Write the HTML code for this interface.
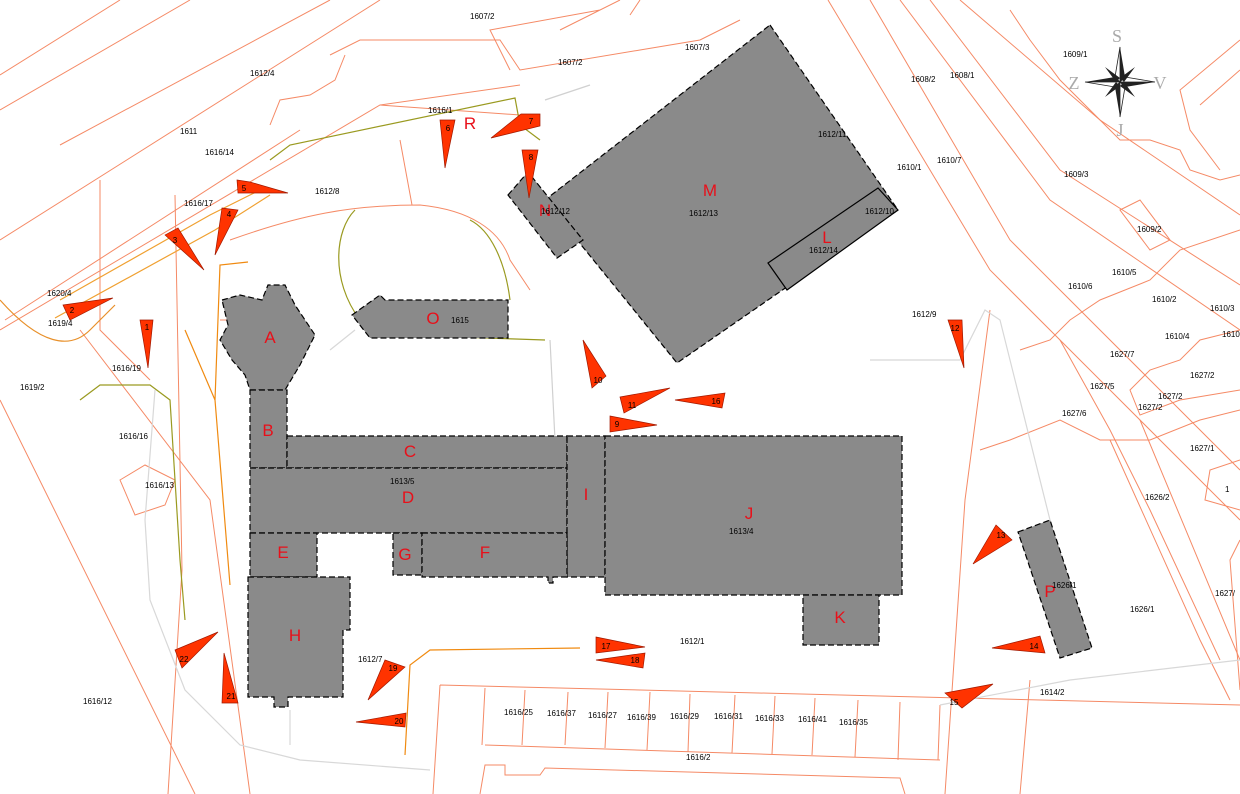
<!DOCTYPE html>
<html><head><meta charset="utf-8"><style>
html,body{margin:0;padding:0;background:#fff;width:1240px;height:794px;overflow:hidden}
svg{display:block}
.p{font-family:"Liberation Sans",sans-serif;font-size:8px;fill:#000}
.L{font-family:"Liberation Sans",sans-serif;font-size:17px;fill:#e8101a;text-anchor:middle}
.t{font-family:"Liberation Sans",sans-serif;font-size:8px;fill:#000;text-anchor:middle}
</style></head><body>
<svg width="1240" height="794" viewBox="0 0 1240 794" xmlns="http://www.w3.org/2000/svg">
<g fill="none" stroke="#f58a66" stroke-width="1">
<path d="M0,75 L120,0 M0,110 L190,0 M60,145 L330,0 M0,240 L380,0 M5,320 L300,130"/>
<path d="M0,330 L380,105 L520,85"/>
<path d="M330,55 L360,40 L500,40 L520,70 L640,50 L700,40 L740,20"/>
<path d="M510,70 L490,30 L600,10 M640,0 L630,15 M620,0 L560,30"/>
<path d="M270,125 L280,100 L310,95 L335,80 L345,55"/>
<path d="M230,240 C300,215 350,205 420,205 C470,210 500,230 510,260 L530,290"/>
<path d="M400,140 L412,205 M100,180 L100,330 L150,380 M175,195 L182,570 L168,794"/>
<path d="M0,400 L195,794 M80,330 L210,500 L250,794"/>
<path d="M120,480 L145,465 L175,480 L165,505 L135,515 Z"/>
<path d="M828,0 L990,270 L1240,520 M870,0 L1010,240 L1240,470 M900,0 L1050,200 L1240,330"/>
<path d="M930,0 L1060,170 L1240,285 M960,0 L1100,120 L1240,215"/>
<path d="M1010,10 L1030,40 L1060,80 L1090,110 L1120,140 L1150,140 L1180,150 L1190,170 L1220,180 L1240,175"/>
<path d="M1240,40 L1180,90 L1190,130 L1220,170 M1240,70 L1200,105"/>
<path d="M1120,210 L1140,200 L1170,240 L1150,250 Z"/>
<path d="M1240,230 L1180,250 L1150,280 L1100,300 L1070,320 L1050,340 L1020,350"/>
<path d="M1240,330 L1200,340 L1180,360 L1150,370 L1130,390 L1140,415 L1180,400 L1240,390"/>
<path d="M1240,410 L1200,420 L1150,440 L1100,440 L1060,420 L1010,440 L980,450"/>
<path d="M1240,460 L1210,470 L1205,500 L1240,510"/>
<path d="M1140,420 L1240,660 M1110,440 L1200,640 L1230,700 M1060,340 L1110,430 L1150,510 L1220,660"/>
<path d="M1240,540 L1230,560 L1240,690"/>
<path d="M990,310 L965,500 L945,794"/>
<path d="M440,685 L1240,705 M440,685 L433,794 M485,688 L482,745 M1030,680 L1020,794"/>
<path d="M485,745 L940,760 M525,690 L522,745 M568,692 L565,745 M608,692 L605,748 M650,692 L647,750 M690,694 L688,752 M735,695 L732,753 M775,696 L772,754 M815,698 L812,755 M858,700 L855,757 M900,702 L898,760 M940,705 L938,760"/>
<path d="M480,794 L485,765 L505,765 L505,775 L540,775 L545,768 L900,778 L905,794"/>
<path d="M380,105 L520,115 M220,320 L260,320"/>
</g>
<g fill="none" stroke-width="1.2">
<path d="M60,300 L210,215 L260,190 M55,318 L215,230 L270,195" stroke="#f0a030"/>
<path d="M0,300 C40,345 70,350 90,330 L115,305" stroke="#e8902a"/>
<path d="M80,400 L100,385 L150,385 L170,400 L175,480 L180,560 L185,620" stroke="#9a9a20"/>
<path d="M230,585 L215,400 L185,330" stroke="#f08a10"/>
<path d="M215,400 L220,265 L248,262" stroke="#f08a10"/>
<path d="M405,755 L410,665 L430,650 L580,648" stroke="#f08a10"/>
<path d="M270,160 L290,145 L515,98 L520,125 L540,140" stroke="#9a9a20"/>
<path d="M355,210 C335,230 330,280 360,320 L400,335 L545,340" stroke="#9a9a20"/>
<path d="M470,220 C490,230 505,260 510,300" stroke="#9a9a20"/>
<path d="M550,340 L555,440 M545,100 L590,85" stroke="#d0d0d0"/>
<path d="M155,390 L145,520 L150,600 L185,690 L240,745 L300,760 L430,770" stroke="#d8d8d8"/>
<path d="M290,745 L290,710 M940,705 L1070,680 L1240,660 M870,360 L960,360 L985,310 L1000,320 L1060,560" stroke="#d8d8d8"/>
<path d="M330,350 L355,330" stroke="#d8d8d8"/>
</g>
<g fill="#8a8a8a" stroke="#000" stroke-width="1.2" stroke-dasharray="6,3">
<path d="M770,25 L898,210 L677,363 L565,225 L545,200 Z"/>
<path d="M508,195 L528,172 L583,240 L557,258 Z"/>
<path d="M768,263 L878,188 L898,210 L787,290 Z" stroke-dasharray="none"/>
<path d="M222,300 L240,295 L262,300 L268,285 L285,285 L295,305 L315,335 L300,365 L285,390 L250,390 L245,375 L232,360 L220,340 L228,325 Z"/>
<rect x="250" y="390" width="37" height="78"/>
<rect x="287" y="436" width="280" height="32"/>
<rect x="250" y="468" width="317" height="65"/>
<rect x="567" y="436" width="38" height="141"/>
<rect x="605" y="436" width="297" height="159"/>
<rect x="803" y="595" width="76" height="50"/>
<rect x="250" y="533" width="67" height="44"/>
<rect x="393" y="533" width="29" height="42"/>
<path d="M422,533 L567,533 L567,577 L553,577 L553,583 L548,583 L548,577 L422,577 Z"/>
<path d="M248,577 L350,577 L350,630 L343,630 L343,697 L288,697 L288,707 L274,707 L274,697 L248,697 Z"/>
<path d="M352,315 L380,295 L385,300 L508,300 L508,338 L370,338 Z"/>
<path d="M1018,532 L1050,520 L1092,648 L1060,658 Z"/>
</g>
<g class="L">
<text x="270" y="343">A</text><text x="268" y="436">B</text><text x="410" y="457">C</text>
<text x="408" y="503">D</text><text x="283" y="558">E</text><text x="485" y="558">F</text>
<text x="405" y="560">G</text><text x="295" y="641">H</text><text x="586" y="500">I</text>
<text x="749" y="519">J</text><text x="840" y="623">K</text><text x="827" y="243">L</text>
<text x="710" y="196">M</text><text x="545" y="216">N</text><text x="433" y="324">O</text>
<text x="1050" y="597">P</text><text x="470" y="129">R</text>
</g>
<g class="p">
<text x="470" y="19">1607/2</text><text x="558" y="65">1607/2</text><text x="685" y="50">1607/3</text>
<text x="250" y="76">1612/4</text><text x="180" y="134">1611</text><text x="205" y="155">1616/14</text>
<text x="428" y="113">1616/1</text><text x="315" y="194">1612/8</text><text x="184" y="206">1616/17</text>
<text x="818" y="137">1612/11</text><text x="689" y="216">1612/13</text><text x="541" y="214">1612/12</text>
<text x="865" y="214">1612/10</text><text x="809" y="253">1612/14</text><text x="451" y="323">1615</text>
<text x="47" y="296">1620/4</text><text x="48" y="326">1619/4</text><text x="112" y="371">1616/19</text>
<text x="20" y="390">1619/2</text><text x="119" y="439">1616/16</text><text x="145" y="488">1616/13</text>
<text x="390" y="484">1613/5</text><text x="729" y="534">1613/4</text><text x="680" y="644">1612/1</text>
<text x="358" y="662">1612/7</text><text x="83" y="704">1616/12</text>
<text x="504" y="715">1616/25</text><text x="547" y="716">1616/37</text><text x="588" y="718">1616/27</text>
<text x="627" y="720">1616/39</text><text x="670" y="719">1616/29</text><text x="714" y="719">1616/31</text>
<text x="755" y="721">1616/33</text><text x="798" y="722">1616/41</text><text x="839" y="725">1616/35</text>
<text x="686" y="760">1616/2</text><text x="1040" y="695">1614/2</text><text x="1052" y="588">1626/1</text>
<text x="1130" y="612">1626/1</text><text x="1215" y="596">1627/</text><text x="1145" y="500">1626/2</text>
<text x="1190" y="451">1627/1</text><text x="1062" y="416">1627/6</text><text x="1090" y="389">1627/5</text>
<text x="1110" y="357">1627/7</text><text x="1138" y="410">1627/2</text><text x="1158" y="399">1627/2</text>
<text x="1190" y="378">1627/2</text><text x="1165" y="339">1610/4</text><text x="1210" y="311">1610/3</text>
<text x="1222" y="337">1610</text><text x="1152" y="302">1610/2</text><text x="1068" y="289">1610/6</text>
<text x="1112" y="275">1610/5</text><text x="1137" y="232">1609/2</text><text x="1064" y="177">1609/3</text>
<text x="1063" y="57">1609/1</text><text x="950" y="78">1608/1</text><text x="911" y="82">1608/2</text>
<text x="937" y="163">1610/7</text><text x="897" y="170">1610/1</text><text x="912" y="317">1612/9</text>
<text x="1225" y="492">1</text>
</g>
<g fill="#ff3300" stroke="#a01800" stroke-width="0.7">
<path d="M140,320 L153,320 L148,368 Z"/><path d="M63,305 L113,298 L70,320 Z"/>
<path d="M165,235 L178,228 L204,270 Z"/><path d="M222,208 L238,210 L215,255 Z"/>
<path d="M237,180 L250,182 L288,193 L238,193 Z"/><path d="M440,120 L455,120 L445,168 Z"/>
<path d="M521,114 L540,114 L540,126 L491,138 Z"/><path d="M522,150 L538,150 L529,198 Z"/>
<path d="M583,340 L606,376 L592,388 Z"/><path d="M610,416 L657,425 L610,432 Z"/>
<path d="M620,397 L670,388 L624,413 Z"/><path d="M675,400 L725,393 L722,408 Z"/>
<path d="M948,320 L962,320 L964,368 Z"/><path d="M996,525 L1012,540 L973,564 Z"/>
<path d="M992,648 L1040,636 L1045,653 Z"/><path d="M945,693 L993,684 L962,708 Z"/>
<path d="M596,637 L645,647 L596,653 Z"/><path d="M596,660 L645,653 L643,668 Z"/>
<path d="M385,660 L405,667 L368,700 Z"/><path d="M356,722 L406,713 L405,727 Z"/>
<path d="M224,653 L238,703 L222,703 Z"/><path d="M175,650 L218,632 L182,668 Z"/>
</g>
<g class="t" font-size="7">
<text x="147" y="330">1</text><text x="72" y="313">2</text><text x="175" y="243">3</text><text x="229" y="217">4</text>
<text x="244" y="191">5</text><text x="448" y="131">6</text><text x="531" y="124">7</text><text x="531" y="160">8</text>
<text x="617" y="427">9</text><text x="598" y="383">10</text><text x="632" y="408">11</text><text x="955" y="331">12</text>
<text x="1001" y="538">13</text><text x="1034" y="649">14</text><text x="954" y="705">15</text><text x="716" y="404">16</text>
<text x="606" y="649">17</text><text x="635" y="663">18</text><text x="393" y="671">19</text><text x="399" y="724">20</text>
<text x="231" y="699">21</text><text x="184" y="662">22</text>
</g>
<g transform="translate(1120,82)">
<path d="M0,-35 L5,-5 L0,0 Z" fill="#222"/><path d="M0,-35 L-5,-5 L0,0 Z" fill="#fff" stroke="#222" stroke-width="0.8"/>
<path d="M0,35 L-5,5 L0,0 Z" fill="#222"/><path d="M0,35 L5,5 L0,0 Z" fill="#fff" stroke="#222" stroke-width="0.8"/>
<path d="M35,0 L5,5 L0,0 Z" fill="#222"/><path d="M35,0 L5,-5 L0,0 Z" fill="#fff" stroke="#222" stroke-width="0.8"/>
<path d="M-35,0 L-5,-5 L0,0 Z" fill="#222"/><path d="M-35,0 L-5,5 L0,0 Z" fill="#fff" stroke="#222" stroke-width="0.8"/>
<path d="M-15,-15 L0,-4 L-4,0 Z M15,-15 L4,0 L0,-4 Z M15,15 L0,4 L4,0 Z M-15,15 L-4,0 L0,4 Z" fill="#222"/>
<text x="-3" y="-40" font-family="Liberation Serif" font-size="18" fill="#aaa" text-anchor="middle">S</text>
<text x="0" y="54" font-family="Liberation Serif" font-size="18" fill="#aaa" text-anchor="middle">J</text>
<text x="-46" y="7" font-family="Liberation Serif" font-size="18" fill="#aaa" text-anchor="middle">Z</text>
<text x="40" y="7" font-family="Liberation Serif" font-size="18" fill="#aaa" text-anchor="middle">V</text>
</g>
</svg>
</body></html>
